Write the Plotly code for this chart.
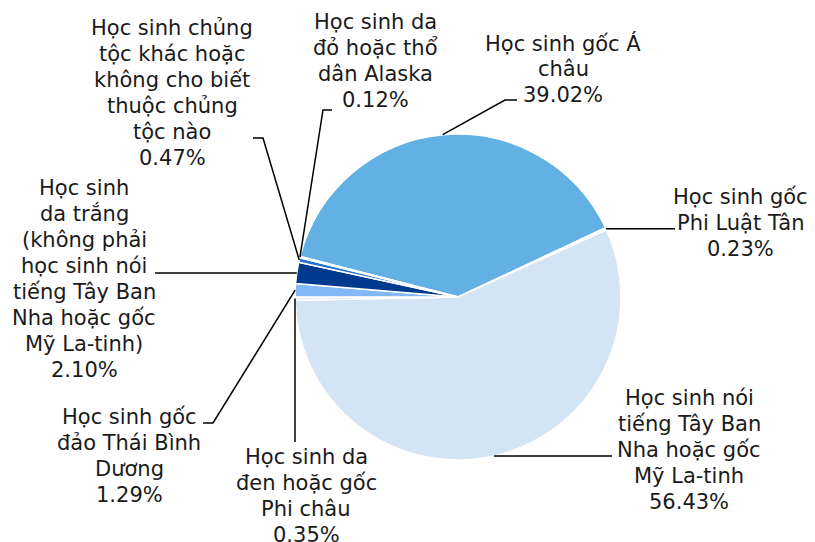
import math
import plotly.graph_objects as go

# ---- data ----
categories = [
    "Học sinh gốc Á châu",
    "Học sinh gốc Phi Luật Tân",
    "Học sinh nói tiếng Tây Ban Nha hoặc gốc Mỹ La-tinh",
    "Học sinh da đen hoặc gốc Phi châu",
    "Học sinh gốc đảo Thái Bình Dương",
    "Học sinh da trắng (không phải học sinh nói tiếng Tây Ban Nha hoặc gốc Mỹ La-tinh)",
    "Học sinh chủng tộc khác hoặc không cho biết thuộc chủng tộc nào",
    "Học sinh da đỏ hoặc thổ dân Alaska",
]
values = [39.02, 0.23, 56.43, 0.35, 1.29, 2.10, 0.47, 0.12]
label_lines = [
    ["Học sinh gốc Á", "châu"],
    ["Học sinh gốc", "Phi Luật Tân"],
    ["Học sinh nói", "tiếng Tây Ban", "Nha hoặc gốc", "Mỹ La-tinh"],
    ["Học sinh da", "đen hoặc gốc", "Phi châu"],
    ["Học sinh gốc", "đảo Thái Bình", "Dương"],
    ["Học sinh", "da trắng", "(không phải", "học sinh nói", "tiếng Tây Ban", "Nha hoặc gốc", "Mỹ La-tinh)"],
    ["Học sinh chủng", "tộc khác hoặc", "không cho biết", "thuộc chủng", "tộc nào"],
    ["Học sinh da", "đỏ hoặc thổ", "dân Alaska"],
]
colors = ["#62B0E4", "#E4EEF9", "#D3E4F5", "#E8F0FA", "#82B8F6", "#003A8F", "#1F72D8", "#E4EEF9"]

# ---- layout constants (screen pixels) ----
OFF = 8                      # page body margin
W, H = 815 - OFF, 542 - OFF  # figure size
CX, CY, R = 458, 297, 163
ROTATION = -75.6
LINE_H = 26
FONT = dict(family="DejaVu Sans, Verdana, sans-serif", size=21, color="#1a1a1a")

# label centre x and first-line y, leader-line elbow points (screen pixels)
label_pos = [(563, 43), (740, 197), (689, 398), (306, 457), (129, 417), (84, 188), (172, 28), (375, 22)]
leader_pts = [
    [(505, 100), (517, 100)],
    [(675, None)],
    [(612, None)],
    [(None, 442)],
    [(213, 423), (203, 423)],
    [(155, None)],
    [(263, 138), (253, 138)],
    [(323, 110), (332, 110)],
]


def px(x, y):
    return (x - OFF) / W, 1 - (y - OFF) / H


fig = go.Figure()
x0, y1 = px(CX - R, CY - R)
x1, y0 = px(CX + R, CY + R)
fig.add_trace(go.Pie(
    labels=categories,
    values=values,
    sort=False,
    direction="clockwise",
    rotation=ROTATION,
    marker=dict(colors=colors, line=dict(color="white", width=1.5)),
    textinfo="none",
    hoverinfo="label+percent",
    showlegend=False,
    domain=dict(x=[x0, x1], y=[y0, y1]),
))

total = sum(values)
cum = 0.0
shapes = []
annotations = []
for i, v in enumerate(values):
    mid = ROTATION + (cum + v / 2) / total * 360
    cum += v
    a = math.radians(mid)
    ex, ey = CX + R * math.sin(a), CY - R * math.cos(a)
    pts = [(ex, ey)]
    for (lx, ly) in leader_pts[i]:
        lx = pts[-1][0] if lx is None else lx
        ly = pts[-1][1] if ly is None else ly
        pts.append((lx, ly))
    path = "M " + " L ".join(f"{px(x, y)[0]:.5f},{px(x, y)[1]:.5f}" for x, y in pts)
    shapes.append(dict(type="path", path=path, xref="paper", yref="paper",
                       line=dict(color="black", width=1.5)))
    lines = label_lines[i] + [f"{v:.2f}%"]
    lx0, ly0 = label_pos[i]
    for j, t in enumerate(lines):
        x, y = px(lx0, ly0 + j * LINE_H)
        annotations.append(dict(x=x, y=y, xref="paper", yref="paper", text=t,
                                showarrow=False, xanchor="center", yanchor="middle",
                                align="center", font=FONT))

fig.update_layout(
    width=W, height=H,
    margin=dict(l=0, r=0, t=0, b=0),
    paper_bgcolor="white",
    plot_bgcolor="white",
    shapes=shapes,
    annotations=annotations,
)

fig.write_html("out.html")
